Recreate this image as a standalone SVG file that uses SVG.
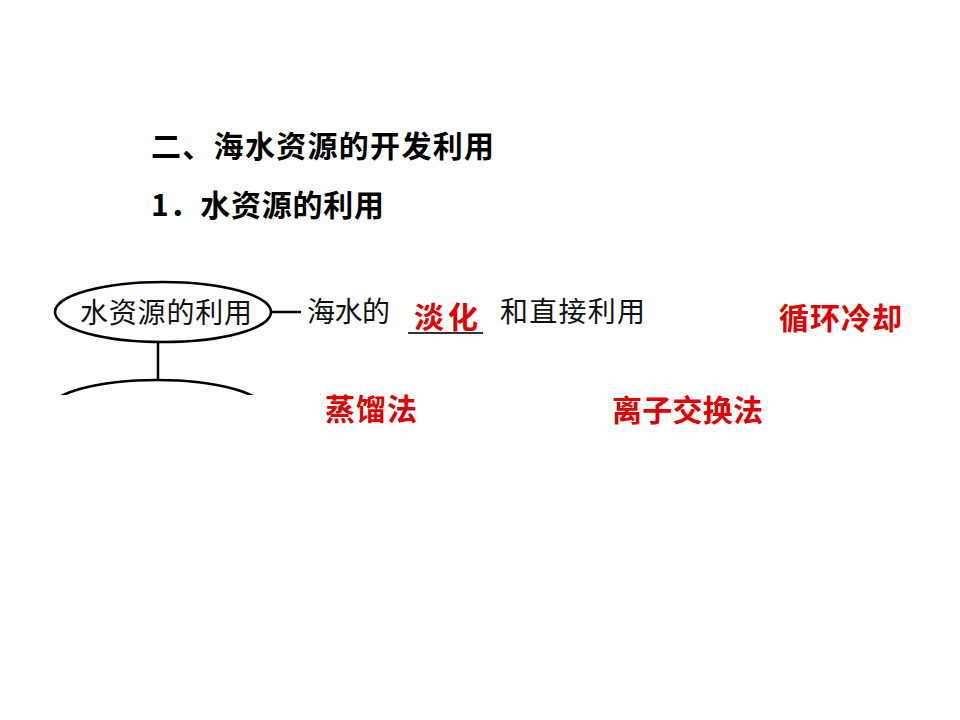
<svg xmlns="http://www.w3.org/2000/svg" width="960" height="720" viewBox="0 0 960 720">
<style>
.h{font-family:"Noto Sans CJK SC","Liberation Sans",sans-serif;font-weight:bold;fill:#000;font-size:30px}
.t{font-family:"Noto Sans CJK SC","Liberation Sans",sans-serif;fill:#111;font-size:28px}
.r{font-family:"Noto Sans CJK SC","Liberation Sans",sans-serif;font-weight:bold;fill:#e00000;font-size:30px}
.ln{stroke:#000;stroke-width:2.5;fill:none}
</style>
<defs>
<clipPath id="cut"><rect x="0" y="0" width="960" height="395"/></clipPath>
</defs>
<rect width="960" height="720" fill="#fff"/>
<text class="h" x="151" y="157" textLength="343">二、海水资源的开发利用</text>
<text class="h" x="151" y="216" textLength="233">1．水资源的利用</text>
<g id="connectors">
<line class="ln" x1="272" y1="312" x2="301" y2="312"/>
<line class="ln" x1="158" y1="342" x2="158" y2="380"/>
<line x1="408" y1="333" x2="483" y2="333" stroke="#333" stroke-width="2"/>
</g>
<g id="node-root">
<ellipse class="ln" cx="163" cy="312" rx="108" ry="30"/>
<text class="t" x="80" y="323" textLength="172">水资源的利用</text>
</g>
<g id="node-sub" clip-path="url(#cut)">
<ellipse class="ln" cx="157" cy="410" rx="108" ry="30"/>
</g>
<g id="node-line1">
<text class="t" x="307" y="322" textLength="83">海水的</text>
<text class="r" x="414" y="328" textLength="64">淡化</text>
<text class="t" x="500" y="322" textLength="145">和直接利用</text>
</g>
<text class="r" x="779" y="329" textLength="123">循环冷却</text>
<text class="r" x="325" y="420" textLength="92">蒸馏法</text>
<text class="r" x="612" y="421" textLength="151">离子交换法</text>
</svg>
